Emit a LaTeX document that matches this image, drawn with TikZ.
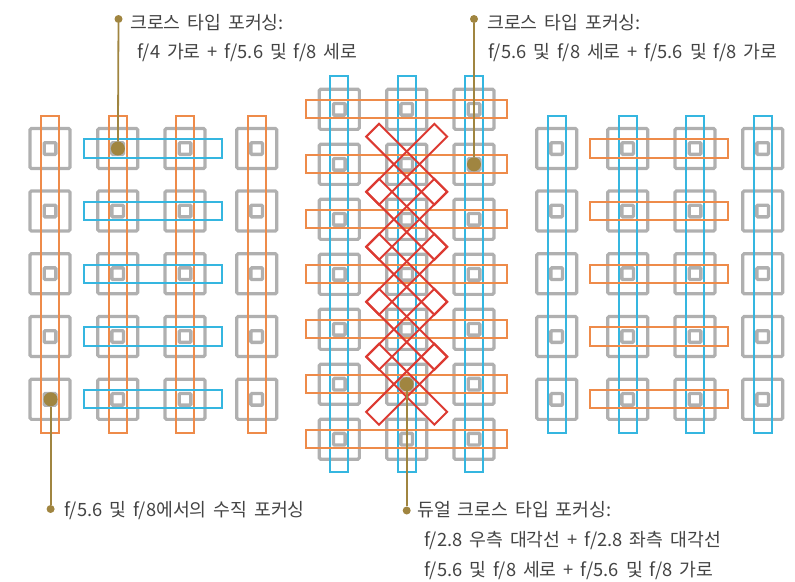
\documentclass[tikz,border=0pt]{standalone}
\usepackage{fontspec}
\setmainfont[WordSpace=1.7]{Noto Sans CJK KR}
\usetikzlibrary{positioning}
\definecolor{pad}{HTML}{B0B0B0}
\definecolor{orangeline}{HTML}{EE8B4A}
\definecolor{blueline}{HTML}{35B6E0}
\definecolor{redline}{HTML}{DC3A32}
\definecolor{gold}{HTML}{A08540}
\definecolor{ink}{HTML}{444444}
\tikzset{
  outerpad/.style={draw=pad,line width=3.2pt,rounded corners=1.5pt,minimum size=40.1pt,inner sep=0pt},
  innerpad/.style={draw=pad,line width=3.4pt,rounded corners=1pt,minimum size=11.6pt,inner sep=0pt},
  strip/.style={line width=2pt,inner sep=0pt,minimum height=18.2pt},
  vstrip/.style={strip,rotate=90,minimum width=#1},
  hstrip/.style={strip,minimum width=#1},
  diag/.style={strip,draw=redline,minimum width=96.4pt,minimum height=18.1pt},
  bigdot/.style={circle,fill=gold,minimum size=14pt,inner sep=0pt},
  tipdot/.style={circle,fill=gold,minimum size=8pt,inner sep=0pt},
  leader/.style={draw=gold,line width=1.8pt},
  label/.style={anchor=base west,inner sep=0pt,text=ink,font=\fontsize{18.3}{22}\selectfont}
}
\begin{document}
\begin{tikzpicture}[x=1pt,y=-1pt]
\useasboundingbox (0,0) rectangle (795,581);
% left group
\foreach \c/\x in {a/50,b/117.7,c/185,d/256.7}
  \foreach \r/\y in {1/148.5,2/211,3/273.7,4/336.5,5/399.3}{
    \node[outerpad] (lo\c\r) at (\x,\y) {};
    \node[innerpad] (li\c\r) at (\x,\y) {};
  }
\foreach \c/\x in {a/50,b/117.7,c/185,d/256.7}
  \node[vstrip=317pt,draw=orangeline] (lv\c) at (\x,274) {};
\foreach \r/\y in {1/148.5,2/211,3/273.7,4/336.5,5/399.3}
  \node[hstrip=137.5pt,draw=blueline] (lh\r) at (153,\y) {};
% middle group
\foreach \c/\x in {a/339.3,b/406.7,c/474}
  \foreach \r/\y in {1/109.3,2/164.3,3/219.3,4/274.3,5/329.3,6/384.2,7/439.2}{
    \node[outerpad] (mo\c\r) at (\x,\y) {};
    \node[innerpad] (mi\c\r) at (\x,\y) {};
  }
\foreach \c/\x in {a/339.3,b/406.7,c/474}
  \node[vstrip=396pt,draw=blueline] (mv\c) at (\x,274) {};
\foreach \r/\y in {1/109.3,2/164.3,3/219.3,4/274.3,5/329.3,6/384.2,7/439.2}
  \node[hstrip=201.4pt,draw=orangeline] (mh\r) at (406.7,\y) {};
\foreach \r/\y in {1/164.3,2/219.3,3/274.3,4/329.3,5/384.2}{
  \node[diag,rotate=45] (da\r) at (406.7,\y) {};
  \node[diag,rotate=-45] (db\r) at (406.7,\y) {};
}
% right group
\foreach \c/\x in {a/556.7,b/627.7,c/695,d/762.7}
  \foreach \r/\y in {1/148.5,2/211,3/273.7,4/336.5,5/399.3}{
    \node[outerpad] (ro\c\r) at (\x,\y) {};
    \node[innerpad] (ri\c\r) at (\x,\y) {};
  }
\foreach \c/\x in {a/556.7,b/627.7,c/695,d/762.7}
  \node[vstrip=317pt,draw=blueline] (rv\c) at (\x,274) {};
\foreach \r/\y in {1/148.5,2/211,3/273.7,4/336.5,5/399.3}
  \node[hstrip=138.1pt,draw=orangeline] (rh\r) at (659.3,\y) {};
% leaders
\node[bigdot] (crossa) at (117.9,148.5) {};
\node[tipdot] (tipa) at (118.5,19) {};
\node[bigdot] (crossb) at (474,164.3) {};
\node[tipdot] (tipb) at (474,19) {};
\node[bigdot] (vert) at (50.6,399.3) {};
\node[tipdot] (tipc) at (50.6,509) {};
\node[bigdot] (dual) at (406.7,384.2) {};
\node[tipdot] (tipd) at (406.7,510.5) {};
\draw[leader] (tipa) -- (crossa);
\draw[leader] (tipb) -- (crossb);
\draw[leader] (tipc) -- (vert);
\draw[leader] (tipd) -- (dual);
% labels
\node[label] (la) at (130,29) {크로스 타입 포커싱:};
\node[label] (lb) at (137,58) {f/4 가로 + f/5.6 및 f/8 세로};
\node[label] (lc) at (487,29) {크로스 타입 포커싱:};
\node[label] (ld) at (488,58) {f/5.6 및 f/8 세로 + f/5.6 및 f/8 가로};
\node[label] (le) at (64,516) {f/5.6 및 f/8에서의 수직 포커싱};
\node[label] (lf) at (417,516.5) {듀얼 크로스 타입 포커싱:};
\node[label] (lg) at (424,546.5) {f/2.8 우측 대각선 + f/2.8 좌측 대각선};
\node[label] (lh) at (424,576) {f/5.6 및 f/8 세로 + f/5.6 및 f/8 가로};
\end{tikzpicture}
\end{document}
